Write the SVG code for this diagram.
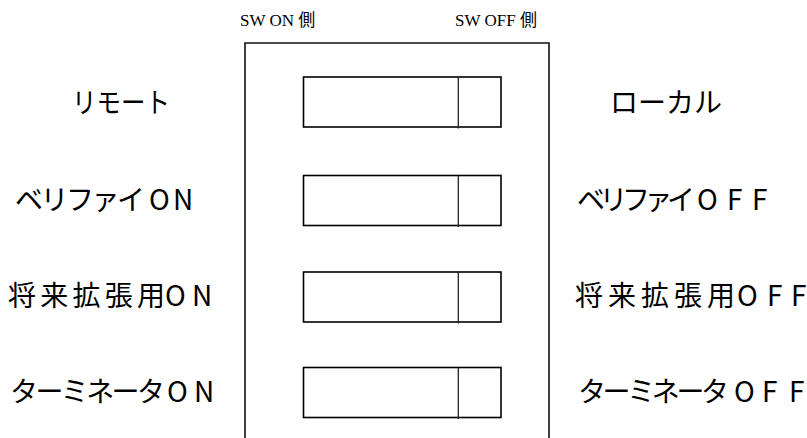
<svg xmlns="http://www.w3.org/2000/svg" width="807" height="438" viewBox="0 0 807 438">
<style>
.sw{fill:#fff;stroke:#000;stroke-width:1.6}
.dv{stroke:#222;stroke-width:1.3}
.frame{fill:none;stroke:#111;stroke-width:1.6}
.hdr{font-family:"Liberation Serif","Noto Sans CJK JP",serif;font-size:17px;fill:#000}
.lbl{font-family:"Noto Sans CJK JP","Noto Sans",sans-serif;font-size:28px;fill:#000}
</style>
<rect width="807" height="438" fill="#fff"/>
<g id="frame"><path class="frame" d="M245,440 V43 H549 V440"/></g>
<g id="headers">
<text class="hdr" x="240" y="26">SW ON 側</text>
<text class="hdr" x="455" y="26">SW OFF 側</text>
</g>
<g id="switch1"><rect class="sw" x="303.5" y="77" width="197.5" height="50"/><line class="dv" x1="458.3" y1="77" x2="458.3" y2="128.5"/></g>
<g id="switch2"><rect class="sw" x="303.5" y="175.5" width="197.5" height="50"/><line class="dv" x1="458.3" y1="175.5" x2="458.3" y2="227"/></g>
<g id="switch3"><rect class="sw" x="303.5" y="272" width="197.5" height="50"/><line class="dv" x1="458.3" y1="272" x2="458.3" y2="323.5"/></g>
<g id="switch4"><rect class="sw" x="303.5" y="367.5" width="197.5" height="50"/><line class="dv" x1="458.3" y1="367.5" x2="458.3" y2="419"/></g>
<g id="left-labels">
<text class="lbl" x="72" y="113" textLength="98" lengthAdjust="spacingAndGlyphs">リモート</text>
<text class="lbl" y="210"><tspan x="15" textLength="130" lengthAdjust="spacing">ベリファイ</tspan><tspan x="149">O</tspan><tspan x="173">N</tspan></text>
<text class="lbl" y="306"><tspan x="8" textLength="157" lengthAdjust="spacing">将来拡張用</tspan><tspan x="165">O</tspan><tspan x="192">N</tspan></text>
<text class="lbl" y="402"><tspan x="10" textLength="155" lengthAdjust="spacing">ターミネータ</tspan><tspan x="167">O</tspan><tspan x="194">N</tspan></text>
</g>
<g id="right-labels">
<text class="lbl" x="610" y="113" textLength="112" lengthAdjust="spacing">ローカル</text>
<text class="lbl" y="210"><tspan x="577" textLength="118" lengthAdjust="spacing">ベリファイ</tspan><tspan x="697">O</tspan><tspan x="727">F</tspan><tspan x="752">F</tspan></text>
<text class="lbl" y="306"><tspan x="575" textLength="160" lengthAdjust="spacing">将来拡張用</tspan><tspan x="737">O</tspan><tspan x="767">F</tspan><tspan x="791">F</tspan></text>
<text class="lbl" y="402"><tspan x="578" textLength="151" lengthAdjust="spacing">ターミネータ</tspan><tspan x="734">O</tspan><tspan x="762">F</tspan><tspan x="789">F</tspan></text>
</g>
</svg>
